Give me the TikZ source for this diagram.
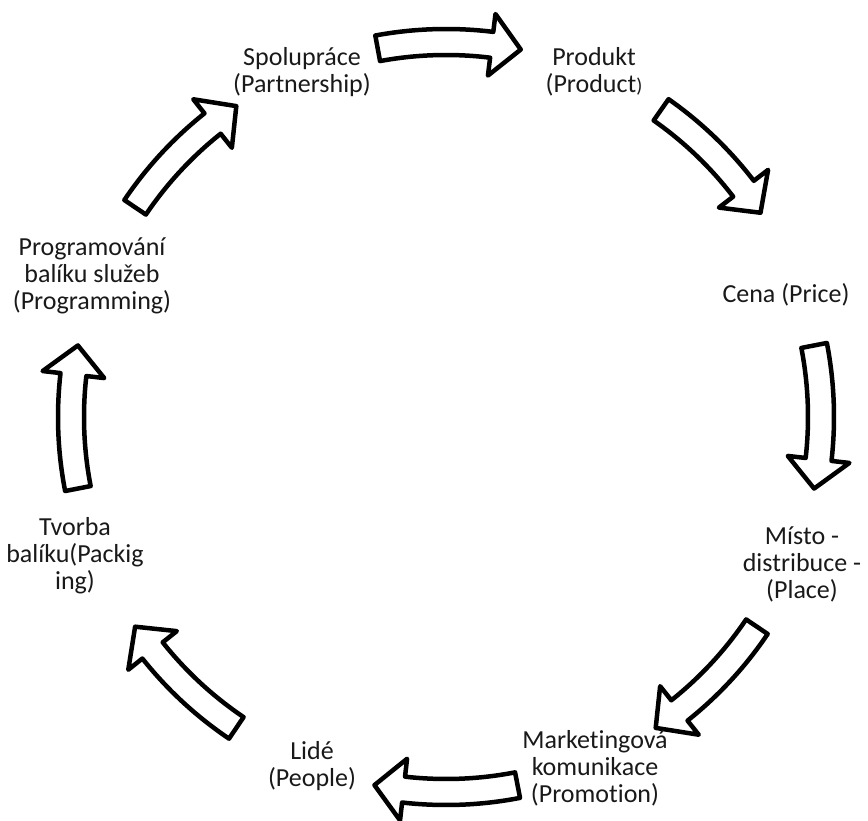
\documentclass[tikz,border=0pt]{standalone}
\usepackage{fontspec}
\setmainfont{Carlito}[Ligatures={NoCommon}]
\tikzset{
  lbl/.style={align=center, inner sep=0pt, font=\fontsize{26}{27}\selectfont, text=black!90},
  blockarrow/.style={draw=black, line width=4.5pt, line join=round, fill=white}
}
\newcommand{\cycarrow}[1]{%
  \pgfmathsetmacro\aA{#1+11}%
  \pgfmathsetmacro\aB{#1-6.5}%
  \pgfmathsetmacro\aC{#1-11}%
  \draw[blockarrow] (\aA:388pt) arc[start angle=\aA, end angle=\aB, radius=388pt]
     -- (\aB:406pt) -- (\aC:375pt) -- (\aB:344pt) -- (\aB:362pt)
     arc[start angle=\aB, end angle=\aA, radius=362pt] -- cycle;}
\begin{document}
\begin{tikzpicture}[x=1pt,y=1pt]
\useasboundingbox (0,0) rectangle (868,-821);
\begin{scope}[shift={(446,-417)}]
  \foreach \m in {89.5,44,0,-45,-90,-135,180,135} {\cycarrow{\m}}
\end{scope}
\node[lbl] (spol) at (302,-72) {Spolupráce\\(Partnership)};
\node[lbl] (prod) at (594,-72) {Produkt\\(Product{\fontsize{20}{20}\selectfont )}};
\node[lbl] (cena) at (786,-295) {Cena (Price)};
\node[lbl] (misto) at (802,-564) {Místo -\\distribuce -\\(Place)};
\node[lbl] (mark) at (595,-768) {Marketingová\\komunikace\\(Promotion)};
\node[lbl] (lide) at (312,-766) {Lidé\\(People)};
\node[lbl] (tvorba) at (75,-556) {Tvorba\\balíku(Packig\\ing)};
\node[lbl] (prog) at (92,-276) {Programování\\balíku služeb\\(Programming)};
\end{tikzpicture}
\end{document}
